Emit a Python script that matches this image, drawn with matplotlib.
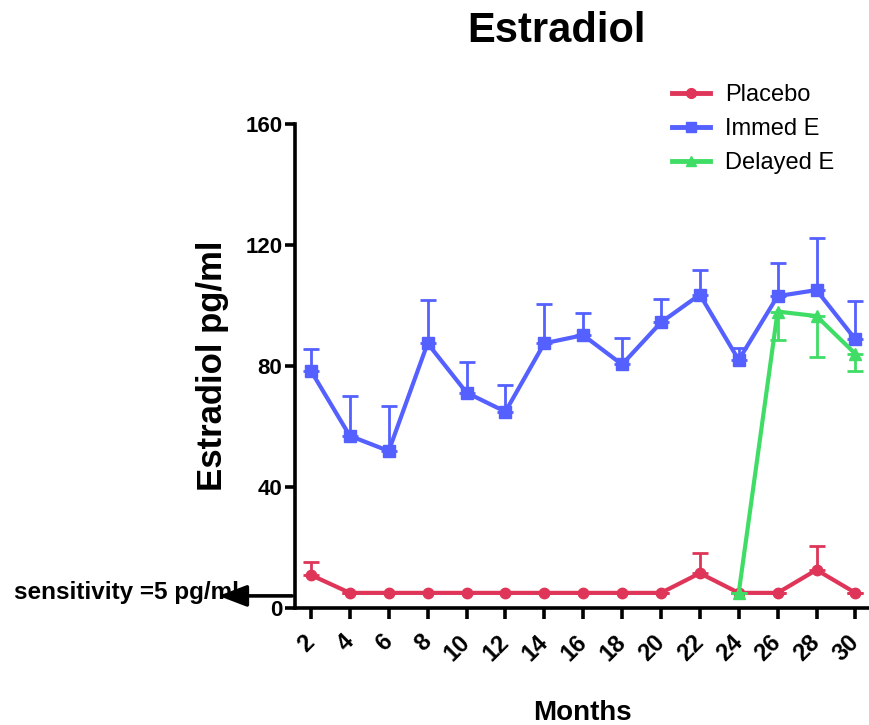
import matplotlib
matplotlib.use("Agg")
import matplotlib.pyplot as plt
from matplotlib.lines import Line2D
import numpy as np

plt.rcParams['font.family'] = ['Liberation Sans', 'DejaVu Sans']

months = [2, 4, 6, 8, 10, 12, 14, 16, 18, 20, 22, 24, 26, 28, 30]
placebo = [10.9, 5, 5, 5, 5, 5, 5, 5, 5, 5, 11.5, 5, 5, 12.6, 5]
placebo_err = [4.4, 0, 0, 0, 0, 0, 0, 0, 0, 0, 6.8, 0, 0, 7.9, 0]
immed = [78.4, 56.9, 51.9, 87.5, 71.2, 64.9, 87.5, 90.2, 80.5, 94.4, 103.6, 82.0, 103.1, 105.1, 88.8]
immed_err = [7.3, 13.1, 14.9, 14.3, 10.2, 8.7, 13.0, 7.3, 8.9, 7.8, 8.1, 4.0, 11.1, 17.1, 12.8]
delayed_months = [24, 26, 28, 30]
delayed = [5, 98.0, 96.5, 84.0]
delayed_err = [0, 9.4, 13.4, 5.5]
series_labels = ['Placebo', 'Immed E', 'Delayed E']

c_red = '#DE3558'
c_blue = '#5460FF'
c_green = '#40DD66'

fig = plt.figure(figsize=(8.69, 7.25), dpi=100)
ax = fig.add_axes([295/869, 1-608/725, 1-295/869, (608-124)/725])

lw = 3.0
ax.errorbar(months, placebo, yerr=[np.zeros(len(placebo_err)), placebo_err], color=c_red,
            marker='o', ms=7.5, lw=lw, elinewidth=2, capsize=5.5, capthick=2, zorder=3)
ax.errorbar(months, immed, yerr=[np.zeros(len(immed_err)), immed_err], color=c_blue,
            marker='s', ms=8, lw=lw, elinewidth=2, capsize=5.5, capthick=2, zorder=4)
ax.errorbar(delayed_months, delayed, yerr=[delayed_err, np.zeros(len(delayed_err))], color=c_green,
            marker='^', ms=8, lw=lw, elinewidth=2, capsize=5.5, capthick=2, zorder=5)

ax.set_ylim(0, 160)
ax.set_xlim(1.18, 30.7)
ax.set_yticks([0, 40, 80, 120, 160])
ax.set_xticks(months)
ax.set_xticklabels([str(m) for m in months], rotation=45, rotation_mode='anchor',
                   ha='right', va='center', fontsize=17, fontweight='bold')
for t in ax.get_yticklabels():
    t.set_fontsize(16)
    t.set_fontweight('bold')

for s in ['top', 'right']:
    ax.spines[s].set_visible(False)
for s in ['left', 'bottom']:
    ax.spines[s].set_linewidth(2.6)
ax.tick_params(axis='y', length=7, width=2.6, pad=2)
ax.tick_params(axis='x', length=8, width=2.6, pad=14)

ax.set_ylabel('Estradiol pg/ml', fontsize=25, fontweight='bold', labelpad=12)
ax.set_xlabel('Months', fontsize=20, fontweight='bold', va='top')
ax.xaxis.set_label_coords(0.5, -0.19)
fig.text(557/869, 1-31/725, 'Estradiol', fontsize=30, fontweight='bold', ha='center', va='center')

ax.annotate('', xy=(-0.133, 4), xytext=(-0.005, 4), xycoords=('axes fraction', 'data'),
            textcoords=('axes fraction', 'data'),
            arrowprops=dict(arrowstyle='-|>,head_length=1.7,head_width=0.65', color='black', lw=2.6,
                            shrinkA=0, shrinkB=0), annotation_clip=False)
fig.text(14/869, 1-592/725, 'sensitivity =5 pg/ml', fontsize=17.5, fontweight='bold', ha='left', va='center')

handles = [Line2D([], [], color=c, marker=m, ms=7, lw=3.5) for c, m in
           [(c_red, 'o'), (c_blue, 's'), (c_green, '^')]]
leg = fig.legend(handles, series_labels, loc='upper left', bbox_to_anchor=(651/869, 1-63/725),
                 frameon=False, fontsize=17, handlelength=1.6, handletextpad=0.65, labelspacing=0.5)

fig.savefig('out.png', dpi=100)
